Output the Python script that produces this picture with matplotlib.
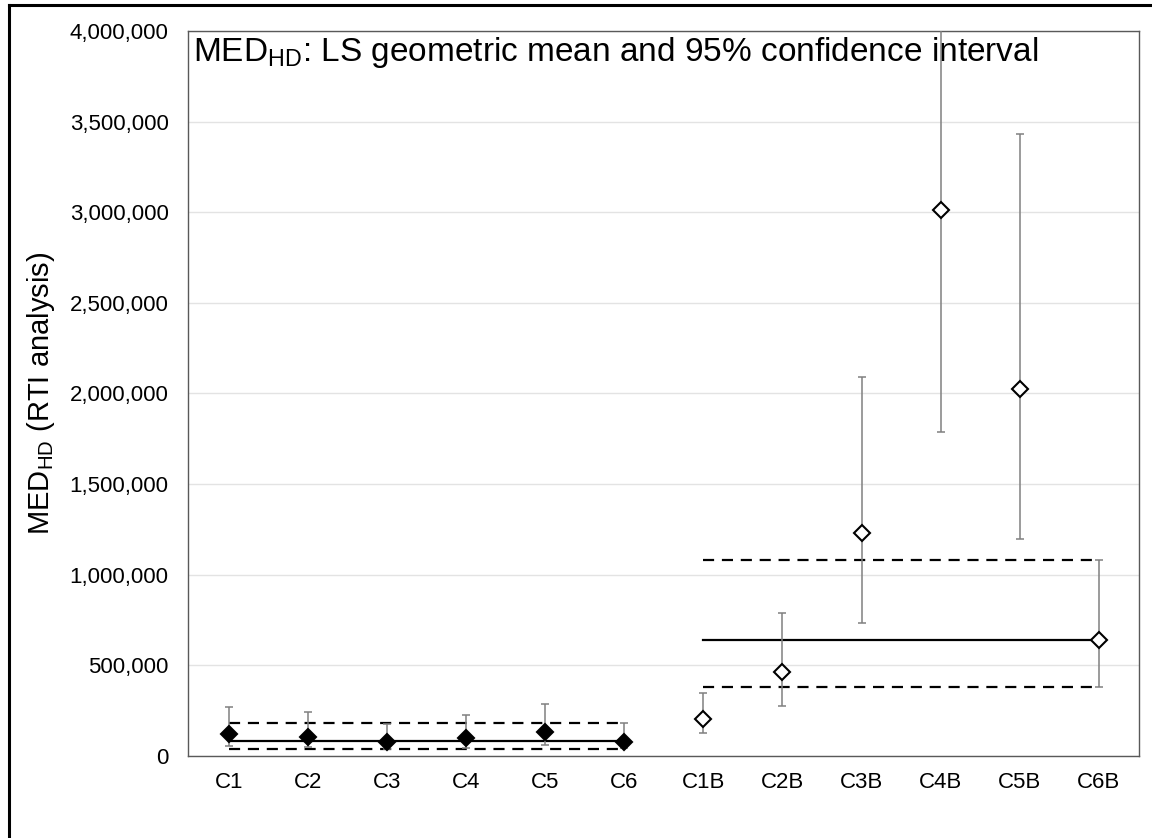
import numpy as np
import matplotlib
matplotlib.use("Agg")
import matplotlib.pyplot as plt
from matplotlib.lines import Line2D
from matplotlib.ticker import FuncFormatter, MultipleLocator

plt.rcParams["font.family"] = ["Liberation Sans", "DejaVu Sans"]
plt.rcParams["mathtext.fontset"] = "custom"
plt.rcParams["mathtext.rm"] = "Liberation Sans"
plt.rcParams["mathtext.it"] = "Liberation Sans:italic"

# categories: standard runs and the B runs
labels_std = ["C1", "C2", "C3", "C4", "C5", "C6"]
labels_b = ["C1B", "C2B", "C3B", "C4B", "C5B", "C6B"]

# LS geometric mean with lower / upper 95% limits
mean_std = [121000, 106000, 75000, 97000, 130000, 79000]
low_std = [53000, 48000, 38000, 42000, 60000, 42000]
high_std = [268000, 244000, 176000, 227000, 286000, 180000]

mean_b = [204000, 464000, 1232000, 3010000, 2027000, 640000]
low_b = [125000, 277000, 732000, 1788000, 1195000, 378000]
high_b = [345000, 791000, 2091000, 4600000, 3432000, 1079000]

# pooled mean and interval for each group
pool_std = (80000, 40000, 180000)
pool_b = (640000, 378000, 1079000)

fig = plt.figure(figsize=(11.52, 8.38), dpi=100)
ax = fig.add_axes([0.1632, 0.0979, 0.8255, 0.8651])

x_std = np.arange(len(labels_std))
x_b = np.arange(len(labels_b)) + len(labels_std)

# pooled lines
for xs, (m, lo, hi) in [(x_std, pool_std), (x_b, pool_b)]:
    ax.plot([xs[0], xs[-1]], [m, m], color="black", lw=1.6, zorder=3)
    for v in (lo, hi):
        ax.plot([xs[0], xs[-1]], [v, v], color="black", lw=1.6,
                linestyle=(0, (5, 3.5)), zorder=3)

# error bars and markers
def draw_group(xs, mean, low, high, face):
    mean = np.array(mean)
    yerr = [mean - np.array(low), np.array(high) - mean]
    ax.errorbar(xs, mean, yerr=yerr, fmt="none", ecolor="#808080",
                elinewidth=1.1, capsize=3, capthick=1.1, zorder=4)
    ax.plot(xs, mean, linestyle="none", marker="D", markersize=8.5,
            markerfacecolor=face, markeredgecolor="black",
            markeredgewidth=1.5, zorder=5)

draw_group(x_std, mean_std, low_std, high_std, "black")
draw_group(x_b, mean_b, low_b, high_b, "white")

ax.set_xlim(-0.52, 11.51)
ax.set_ylim(0, 4000000)
ax.set_xticks(np.concatenate([x_std, x_b]))
ax.set_xticklabels(labels_std + labels_b)
ax.yaxis.set_major_locator(MultipleLocator(500000))
ax.yaxis.set_major_formatter(FuncFormatter(lambda v, p: f"{int(v):,}"))
ax.tick_params(axis="both", length=0, labelsize=16, colors="black")
ax.tick_params(axis="y", pad=14)
ax.tick_params(axis="x", pad=11.5)
ax.grid(axis="y", color="#e3e3e3", lw=1.0)
ax.set_axisbelow(True)
for s in ax.spines.values():
    s.set_color("#595959")
    s.set_linewidth(1.0)

ax.set_ylabel(r"MED$_{\mathrm{HD}}$ (RTI analysis)", fontsize=21)
ax.yaxis.set_label_coords(-0.1377, 0.5)
ax.text(0.0053, 0.995, r"MED$_{\mathrm{HD}}$: LS geometric mean and 95% confidence interval",
        transform=ax.transAxes, fontsize=24, va="top", ha="left", zorder=2)

# frame lines along the left and top edge
fig.add_artist(Line2D([0.0078, 0.0078], [0, 0.9946], transform=fig.transFigure,
                      color="black", lw=2.2))
fig.add_artist(Line2D([0.0078, 1.0], [0.9946, 0.9946], transform=fig.transFigure,
                      color="black", lw=2.2))

fig.savefig("out.png", dpi=100)
